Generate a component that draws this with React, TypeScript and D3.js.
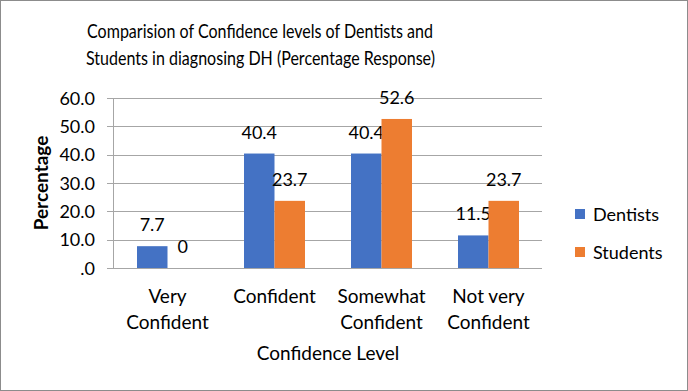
import React from 'react';
import { scaleBand, scaleLinear } from 'd3';

const categories = [['Very', 'Confident'], ['Confident'], ['Somewhat', 'Confident'], ['Not very', 'Confident']];
const catKeys = ['Very Confident', 'Confident', 'Somewhat Confident', 'Not very Confident'];
const seriesNames = ['Dentists', 'Students'];
const dentists = [7.7, 40.4, 40.4, 11.5];
const students = [0, 23.7, 52.6, 23.7];
const yTicks = [0, 10, 20, 30, 40, 50, 60];
const colors = ['#4472C4', '#ED7D31'];

const W = 688;
const H = 391;
const plot = { left: 114, right: 542, top: 98, bottom: 268 };
const font = 'Lato, "Open Sans", sans-serif';

export default function App() {
  const x0 = scaleBand().domain(catKeys).range([plot.left, plot.right]);
  const bw = x0.bandwidth();
  const gap = bw * 0.43 / 2;
  const x1 = scaleBand().domain(seriesNames).range([gap, bw - gap]);
  const y = scaleLinear().domain([0, 60]).range([plot.bottom, plot.top]);
  const grid = '#a6a6a6';
  const series = [dentists, students];

  return (
    <svg width={W} height={H} style={{ position: 'absolute', left: 0, top: 0 }} fontFamily={font}>
      <rect x={0.5} y={0.5} width={W - 1} height={H - 1} fill="white" stroke="#8c8c8c" />
      <text x={260} y={38} textAnchor="middle" fontSize={19} textLength={346} lengthAdjust="spacingAndGlyphs" fill="#000">
        Comparision of Confidence levels of Dentists and
      </text>
      <text x={260.5} y={65} textAnchor="middle" fontSize={19} textLength={349} lengthAdjust="spacingAndGlyphs" fill="#000">
        Students in diagnosing DH (Percentage Response)
      </text>

      {yTicks.map((t) => (
        <g key={t}>
          <line x1={plot.left - 7} x2={plot.right} y1={Math.round(y(t)) + 0.5} y2={Math.round(y(t)) + 0.5} stroke={grid} />
          <text x={95} y={y(t) + 6.5} textAnchor="end" fontSize={18} fill="#000">
            {t === 0 ? '.0' : t.toFixed(1)}
          </text>
        </g>
      ))}
      <line x1={plot.left - 0.5} x2={plot.left - 0.5} y1={plot.top} y2={plot.bottom} stroke={grid} />

      {catKeys.map((c, i) => (
        <g key={c}>
          {series.map((s, j) => {
            const bx = x0(c)! + x1(seriesNames[j])!;
            return (
              <g key={j}>
                <rect x={bx} y={y(s[i])} width={x1.bandwidth()} height={plot.bottom - y(s[i])} fill={colors[j]} />
                <text x={bx + x1.bandwidth() / 2} y={y(s[i]) - 15} textAnchor="middle" fontSize={18} fill="#000">
                  {s[i]}
                </text>
              </g>
            );
          })}
          {categories[i].map((line, k) => (
            <text key={k} x={x0(c)! + bw / 2} y={303 + k * 26} textAnchor="middle" fontSize={19} fill="#000">
              {line}
            </text>
          ))}
        </g>
      ))}

      <text x={328} y={360} textAnchor="middle" fontSize={19} fill="#000">Confidence Level</text>
      <text transform={`translate(48,${(plot.top + plot.bottom) / 2}) rotate(-90)`} textAnchor="middle" fontSize={19} fontWeight="bold" fill="#000">
        Percentage
      </text>

      {seriesNames.map((n, j) => (
        <g key={n}>
          <rect x={575} y={209 + j * 38} width={10} height={10} fill={colors[j]} />
          <text x={593} y={220.5 + j * 38} fontSize={18} fill="#000">{n}</text>
        </g>
      ))}
    </svg>
  );
}
